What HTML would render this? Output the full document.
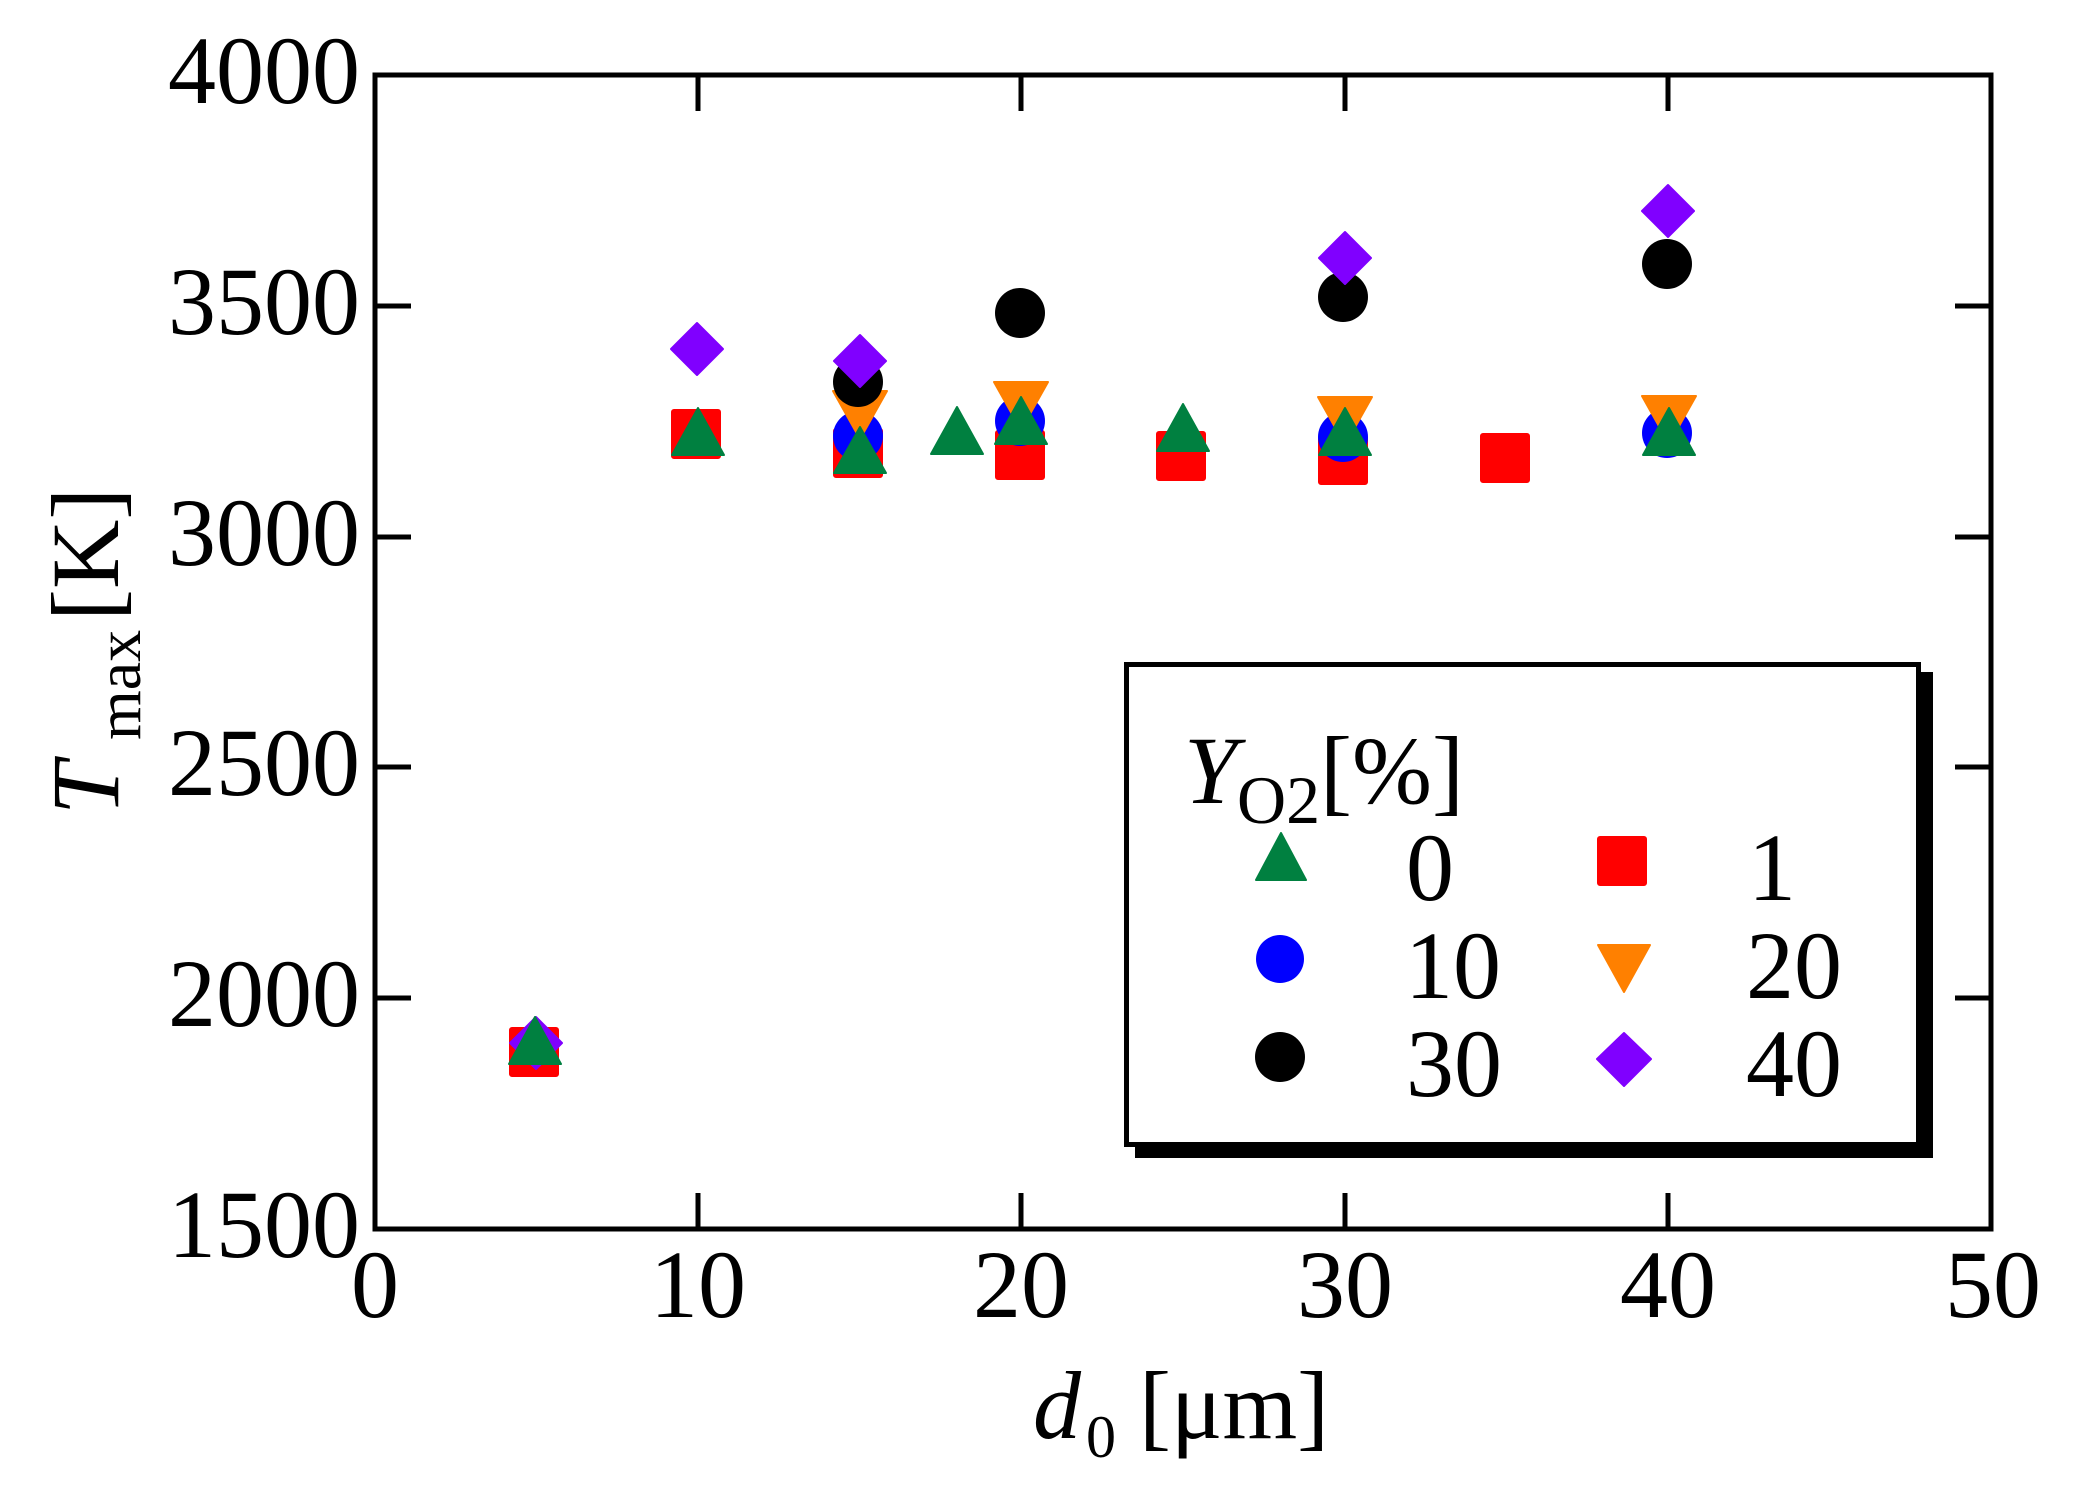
<!DOCTYPE html>
<html>
<head>
<meta charset="utf-8">
<style>
html,body{margin:0;padding:0;background:#fff;}
svg{display:block;}
text{font-family:"Liberation Serif","Times New Roman",serif;fill:#000;}
</style>
</head>
<body>
<svg width="2073" height="1497" viewBox="0 0 2073 1497" xmlns="http://www.w3.org/2000/svg">
<rect x="0" y="0" width="2073" height="1497" fill="#fff"/>

<!-- Legend shadow + box -->
<rect x="1135" y="672" width="798" height="486" fill="#000"/>
<rect x="1126.5" y="664.5" width="792" height="480" fill="#fff" stroke="#000" stroke-width="5"/>

<!-- Data markers: order red, blue, orange, black, purple, green -->
<g fill="#ff0000" stroke="#ff0000" stroke-width="2" stroke-linejoin="round">
  <rect x="510" y="1028" width="48" height="48" rx="2"/>
  <rect x="672" y="410" width="48" height="48" rx="2"/>
  <rect x="834" y="429" width="48" height="48" rx="2"/>
  <rect x="996" y="431" width="48" height="48" rx="2"/>
  <rect x="1157" y="432" width="48" height="48" rx="2"/>
  <rect x="1319" y="436" width="48" height="48" rx="2"/>
  <rect x="1481" y="434" width="48" height="48" rx="2"/>
</g>
<g fill="#0000ff">
  <circle cx="858" cy="436" r="25"/>
  <circle cx="1020" cy="421" r="25"/>
  <circle cx="1343" cy="437" r="25"/>
  <circle cx="1667" cy="433" r="25"/>
</g>
<g fill="#ff8000" stroke="#ff8000" stroke-width="2" stroke-linejoin="round">
  <polygon points="833,391 887,391 860,439"/>
  <polygon points="994,382 1048,382 1021,430"/>
  <polygon points="1318,397 1372,397 1345,445"/>
  <polygon points="1642,396 1696,396 1669,444"/>
</g>
<g fill="#000">
  <circle cx="858" cy="382" r="25"/>
  <circle cx="1020" cy="313" r="25"/>
  <circle cx="1343" cy="297" r="25"/>
  <circle cx="1667" cy="264" r="25"/>
</g>
<g fill="#8000ff" stroke="#8000ff" stroke-width="2" stroke-linejoin="round">
  <polygon points="536,1017 562,1043 536,1069 510,1043"/>
  <polygon points="697,323 723,349 697,375 671,349"/>
  <polygon points="860,335 886,361 860,387 834,361"/>
  <polygon points="1345,232 1371,258 1345,284 1319,258"/>
  <polygon points="1668,185 1694,211 1668,237 1642,211"/>
</g>
<g fill="#008040" stroke="#008040" stroke-width="2" stroke-linejoin="round">
  <polygon points="535,1017 561,1064 509,1064"/>
  <polygon points="698,408 724,455 672,455"/>
  <polygon points="860,427 886,473 834,473"/>
  <polygon points="957,407 983,454 931,454"/>
  <polygon points="1021,397 1047,444 995,444"/>
  <polygon points="1183,404 1209,451 1157,451"/>
  <polygon points="1345,408 1371,455 1319,455"/>
  <polygon points="1669,408 1695,455 1643,455"/>
</g>

<!-- Axes frame -->
<rect x="375" y="75" width="1616" height="1154" fill="none" stroke="#000" stroke-width="5"/>

<!-- Ticks -->
<g stroke="#000" stroke-width="5">
  <line x1="698" y1="1229" x2="698" y2="1193"/>
  <line x1="1021" y1="1229" x2="1021" y2="1193"/>
  <line x1="1345" y1="1229" x2="1345" y2="1193"/>
  <line x1="1668" y1="1229" x2="1668" y2="1193"/>
  <line x1="698" y1="75" x2="698" y2="111"/>
  <line x1="1021" y1="75" x2="1021" y2="111"/>
  <line x1="1345" y1="75" x2="1345" y2="111"/>
  <line x1="1668" y1="75" x2="1668" y2="111"/>
  <line x1="375" y1="306" x2="411" y2="306"/>
  <line x1="375" y1="537" x2="411" y2="537"/>
  <line x1="375" y1="767" x2="411" y2="767"/>
  <line x1="375" y1="998" x2="411" y2="998"/>
  <line x1="1991" y1="306" x2="1955" y2="306"/>
  <line x1="1991" y1="537" x2="1955" y2="537"/>
  <line x1="1991" y1="767" x2="1955" y2="767"/>
  <line x1="1991" y1="998" x2="1955" y2="998"/>
</g>

<!-- Y tick labels -->
<g font-size="96" text-anchor="end">
  <text x="360" y="103">4000</text>
  <text x="360" y="334">3500</text>
  <text x="360" y="565">3000</text>
  <text x="360" y="795">2500</text>
  <text x="360" y="1026">2000</text>
  <text x="360" y="1257">1500</text>
</g>

<!-- X tick labels -->
<g font-size="96" text-anchor="middle">
  <text x="375" y="1317">0</text>
  <text x="698" y="1317">10</text>
  <text x="1021" y="1317">20</text>
  <text x="1345" y="1317">30</text>
  <text x="1668" y="1317">40</text>
  <text x="1993" y="1317">50</text>
</g>

<!-- X axis title -->
<text x="1033" y="1438" font-size="96" font-style="italic">d</text>
<text x="1086" y="1457" font-size="60">0</text>
<text x="1139" y="1438" font-size="96">[μm]</text>

<!-- Y axis title -->
<g transform="translate(118,810) rotate(-90)">
  <text x="-5" y="0" font-size="96" font-style="italic">T</text>
  <text x="70" y="22" font-size="64">max</text>
  <text x="189" y="0" font-size="96">[K]</text>
</g>

<!-- Legend content -->
<text x="1184" y="803" font-size="96" font-style="italic">Y</text>
<text x="1237" y="823" font-size="68">O2</text>
<text x="1320" y="803" font-size="96">[%]</text>

<polygon points="1281,833 1306,880 1256,880" fill="#008040" stroke="#008040" stroke-width="2" stroke-linejoin="round"/>
<rect x="1598" y="837" width="48" height="48" rx="2" fill="#ff0000" stroke="#ff0000" stroke-width="2"/>
<circle cx="1280" cy="959" r="24" fill="#0000ff"/>
<polygon points="1598,945 1650,945 1624,992" fill="#ff8000" stroke="#ff8000" stroke-width="2" stroke-linejoin="round"/>
<circle cx="1280" cy="1057" r="25" fill="#000"/>
<polygon points="1624,1033 1651,1059 1624,1086 1597,1059" fill="#8000ff" stroke="#8000ff" stroke-width="2" stroke-linejoin="round"/>

<g font-size="96">
  <text x="1406" y="900">0</text>
  <text x="1748" y="900">1</text>
  <text x="1405" y="998">10</text>
  <text x="1746" y="998">20</text>
  <text x="1406" y="1096">30</text>
  <text x="1746" y="1096">40</text>
</g>
</svg>
</body>
</html>
